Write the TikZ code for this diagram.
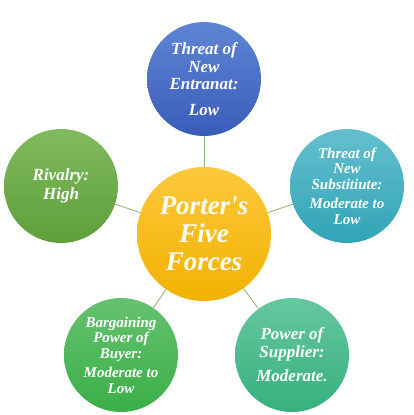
\documentclass[tikz,border=0pt]{standalone}
\usepackage{fontspec}
\setmainfont{Liberation Serif}
\usetikzlibrary{positioning}
\definecolor{hubtop}{HTML}{FDC83C}
\definecolor{hubbot}{HTML}{F2B200}
\definecolor{bluetop}{HTML}{5E85D4}
\definecolor{bluebot}{HTML}{3A5CB9}
\definecolor{tealtop}{HTML}{64BFCE}
\definecolor{tealbot}{HTML}{31A4B7}
\definecolor{olivetop}{HTML}{80BA5F}
\definecolor{olivebot}{HTML}{5E9F3A}
\definecolor{greentop}{HTML}{66C270}
\definecolor{greenbot}{HTML}{3AAE47}
\definecolor{minttop}{HTML}{66C7A0}
\definecolor{mintbot}{HTML}{37B07E}
\definecolor{linkgreen}{HTML}{8CB56A}
\tikzset{
  force/.style   = {circle, minimum size=114pt, inner sep=0pt, align=center,
                    text=white, font=\bfseries\itshape\fontsize{17}{17.5}\selectfont},
  smallforce/.style = {force, font=\bfseries\itshape\fontsize{15}{15.5}\selectfont},
  hub/.style     = {circle, minimum size=134pt, inner sep=0pt, align=center,
                    top color=hubtop, bottom color=hubbot, text=white,
                    font=\bfseries\itshape\fontsize{27}{28}\selectfont},
  link/.style    = {draw=linkgreen, line width=0.8pt},
}
\begin{document}
\begin{tikzpicture}[x=1pt, y=-1pt]
  \useasboundingbox (0,0) rectangle (413,415);
  \node[hub] (hub) at (204,234) {Porter\textquotesingle s\\Five\\Forces};
  \node[force, top color=bluetop, bottom color=bluebot] (entrant) at (204,79)
    {Threat of\\New\\Entranat:\\[8pt]Low};
  \node[smallforce, top color=tealtop, bottom color=tealbot] (substitute) at (347,186)
    {Threat of\\New\\Substitiute:\\[4pt]Moderate to\\Low};
  \node[force, top color=olivetop, bottom color=olivebot] (rivalry) at (61,186)
    {Rivalry:\\[2pt]High};
  \node[smallforce, top color=greentop, bottom color=greenbot] (buyer) at (121,355)
    {Bargaining\\Power of\\Buyer:\\[4pt]Moderate to\\Low};
  \node[force, top color=minttop, bottom color=mintbot] (supplier) at (292,355)
    {Power of\\Supplier:\\[7pt]Moderate.};
  \foreach \n in {entrant, substitute, rivalry, buyer, supplier}
    \draw[link] (hub) -- (\n);
\end{tikzpicture}
\end{document}
